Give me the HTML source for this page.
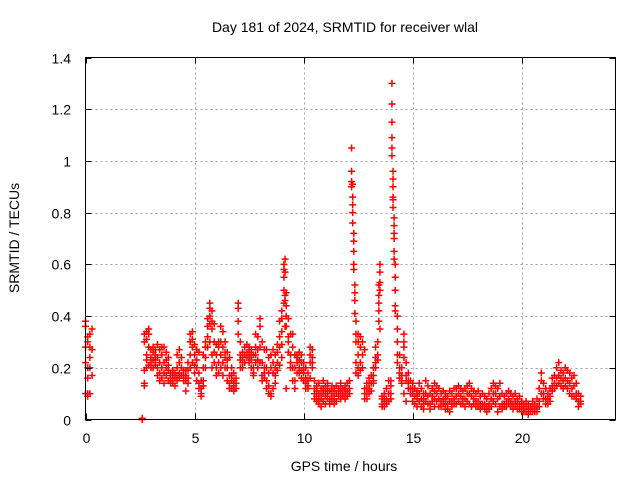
<!DOCTYPE html>
<html><head><meta charset="utf-8"><style>
html,body{margin:0;padding:0;background:#fff}
svg{display:block;font-family:"Liberation Sans",sans-serif}
</style></head><body>
<svg id="chart" width="640" height="480" viewBox="0 0 640 480">
<text x="345" y="32" font-size="14" text-anchor="middle">Day 181 of 2024, SRMTID for receiver wlal</text>
<g id="grid"></g>
<g id="marks"></g>
<rect x="85.5" y="57.5" width="530" height="362" fill="none" stroke="#000" stroke-width="1"/>
<g id="ticks"></g>
<text transform="translate(19,238) rotate(-90)" font-size="14" text-anchor="middle">SRMTID / TECUs</text>
<text x="344" y="471" font-size="14" text-anchor="middle">GPS time / hours</text>
</svg>
<script>
const xTicks=[0,5,10,15,20];
const yTicks=[0,0.2,0.4,0.6,0.8,1,1.2,1.4];
const yTickLabels=["0","0.2","0.4","0.6","0.8","1","1.2","1.4"];
const samples=[
[0.0,[0.38,0.36,0.1,0.28,0.22]],[0.1,[0.09,0.3,0.16,0.32,0.2,0.1]],[0.2,[0.33,0.24,0.28,0.1,0.2]],[0.3,[0.35,0.17,0.27]],
[2.6,[0,0.005]],[2.7,[0.14,0.13,0.19,0.33,0.3]],[2.8,[0.34,0.23,0.25,0.2,0.31]],[2.9,[0.35,0.28,0.21,0.33]],
[3.0,[0.27,0.22,0.2,0.24]],[3.1,[0.28,0.23,0.2,0.26]],[3.2,[0.27,0.25,0.21,0.23]],[3.3,[0.29,0.2,0.24,0.17]],[3.4,[0.27,0.15,0.18,0.22]],
[3.5,[0.28,0.16,0.2,0.25]],[3.6,[0.28,0.14,0.22,0.18]],[3.7,[0.26,0.17,0.2,0.23]],[3.8,[0.24,0.15,0.19,0.21]],[3.9,[0.18,0.14,0.16]],
[4.0,[0.17,0.14,0.19,0.15]],[4.1,[0.16,0.13,0.18]],[4.2,[0.2,0.15,0.25,0.17]],[4.3,[0.27,0.18,0.22,0.16]],[4.4,[0.24,0.17,0.2]],
[4.5,[0.19,0.15,0.17]],[4.6,[0.17,0.11,0.15,0.19]],[4.7,[0.22,0.16,0.19,0.14]],[4.8,[0.33,0.3,0.25,0.2]],[4.9,[0.34,0.31,0.22,0.28]],
[5.0,[0.29,0.18,0.25,0.21]],[5.1,[0.27,0.2,0.23,0.15]],[5.2,[0.26,0.12,0.14,0.18]],[5.3,[0.1,0.09,0.12,0.15]],[5.4,[0.2,0.15,0.13,0.25]],
[5.5,[0.28,0.3,0.24,0.2]],[5.6,[0.39,0.36,0.32,0.28]],[5.7,[0.45,0.43,0.4,0.37,0.3]],[5.8,[0.42,0.38,0.35,0.25,0.2]],[5.9,[0.37,0.3,0.22,0.26]],
[6.0,[0.29,0.2,0.17,0.25]],[6.1,[0.28,0.22,0.18,0.3]],[6.2,[0.36,0.3,0.25,0.2]],[6.3,[0.34,0.28,0.22,0.17]],[6.4,[0.3,0.24,0.2,0.26]],
[6.5,[0.26,0.2,0.15,0.23]],[6.6,[0.24,0.17,0.14,0.12]],[6.7,[0.2,0.15,0.12,0.17]],[6.8,[0.18,0.13,0.15,0.11]],[6.9,[0.16,0.14,0.12]],
[7.0,[0.45,0.43,0.38,0.33]],[7.1,[0.3,0.25,0.23,0.2]],[7.2,[0.26,0.22,0.2,0.24]],[7.3,[0.28,0.25,0.22]],[7.4,[0.29,0.26,0.24]],
[7.5,[0.28,0.24,0.22,0.26]],[7.6,[0.27,0.23,0.2,0.25]],[7.7,[0.25,0.18,0.2,0.17]],[7.8,[0.25,0.22,0.28,0.33]],[7.9,[0.32,0.27,0.2,0.23]],
[8.0,[0.39,0.36,0.28,0.22]],[8.1,[0.3,0.17,0.22,0.15]],[8.2,[0.27,0.16,0.2,0.18]],[8.3,[0.27,0.15,0.12,0.2]],[8.4,[0.24,0.18,0.1,0.13]],
[8.5,[0.25,0.1,0.09,0.2]],[8.6,[0.27,0.12,0.18,0.22]],[8.7,[0.2,0.14,0.17,0.25]],[8.8,[0.29,0.22,0.19,0.26]],[8.9,[0.38,0.32,0.28,0.21]],
[9.0,[0.42,0.39,0.34,0.29,0.24]],[9.1,[0.6,0.58,0.55,0.5,0.45]],[9.15,[0.62,0.57,0.48,0.46,0.36]],[9.2,[0.49,0.44,0.4,0.36,0.12]],
[9.3,[0.39,0.32,0.3,0.26]],[9.4,[0.33,0.25,0.22,0.2]],[9.5,[0.33,0.28,0.2,0.15]],[9.6,[0.25,0.2,0.15,0.12]],[9.7,[0.25,0.22,0.18,0.24]],
[9.8,[0.26,0.2,0.18,0.23]],[9.9,[0.25,0.22,0.19,0.16]],[10.0,[0.22,0.18,0.15,0.2]],[10.1,[0.2,0.16,0.14,0.12]],[10.2,[0.18,0.15,0.13,0.12]],
[10.3,[0.28,0.25,0.22,0.16]],[10.4,[0.27,0.24,0.22,0.2]],[10.5,[0.15,0.12,0.1,0.08]],[10.6,[0.13,0.09,0.07,0.11]],[10.7,[0.14,0.1,0.06,0.08]],
[10.8,[0.12,0.08,0.05,0.1]],[10.9,[0.15,0.1,0.07,0.12]],[11.0,[0.13,0.09,0.06,0.11]],[11.1,[0.14,0.1,0.08,0.12]],[11.2,[0.11,0.08,0.06]],
[11.3,[0.13,0.09,0.11,0.07]],[11.4,[0.12,0.08,0.1,0.06]],[11.5,[0.13,0.1,0.07]],[11.6,[0.12,0.09,0.11]],[11.7,[0.14,0.1,0.08,0.12]],
[11.8,[0.12,0.1,0.09]],[11.9,[0.13,0.1,0.08,0.12]],[12.0,[0.14,0.11,0.09]],[12.1,[0.15,0.12,0.1]],
[12.2,[1.05,0.96,0.92,0.9]],[12.25,[0.91,0.86,0.83,0.8,0.76]],[12.3,[0.72,0.69,0.65,0.6,0.58]],[12.35,[0.52,0.49,0.46,0.41]],
[12.4,[0.38,0.33,0.3,0.22,0.18]],[12.5,[0.33,0.3,0.25,0.2,0.17]],[12.6,[0.32,0.28,0.22,0.19]],[12.7,[0.3,0.25,0.2]],
[12.8,[0.27,0.12,0.1,0.08]],[12.9,[0.14,0.1,0.08,0.12]],[13.0,[0.16,0.12,0.1,0.14]],[13.1,[0.17,0.14,0.11]],[13.2,[0.2,0.17,0.15,0.14]],
[13.3,[0.28,0.24,0.22,0.2]],[13.4,[0.3,0.25,0.23]],[13.45,[0.52,0.48,0.45,0.42,0.38]],[13.5,[0.6,0.57,0.53,0.5,0.35]],
[13.6,[0.09,0.06,0.05,0.08]],[13.7,[0.1,0.07,0.05,0.08]],[13.8,[0.12,0.08,0.06]],[13.9,[0.15,0.1,0.07]],[14.0,[0.13,0.1,0.08,0.15]],
[14.05,[1.3,1.22,1.15,1.09,1.05,1.02]],[14.1,[0.96,0.93,0.9,0.86,0.85,0.82]],[14.15,[0.78,0.75,0.72,0.7,0.65,0.62]],
[14.2,[0.6,0.55,0.5,0.44,0.42]],[14.3,[0.4,0.35,0.3,0.25,0.22]],[14.4,[0.25,0.2,0.18,0.16]],[14.5,[0.2,0.17,0.15,0.14]],
[14.6,[0.33,0.3,0.28,0.24,0.1]],[14.7,[0.22,0.17,0.15,0.07]],[14.8,[0.18,0.15,0.12,0.14]],[14.9,[0.15,0.12,0.1]],
[15.0,[0.14,0.1,0.07,0.12]],[15.1,[0.12,0.09,0.06]],[15.2,[0.11,0.08,0.05,0.1]],[15.3,[0.14,0.1,0.07]],[15.4,[0.12,0.08,0.05]],
[15.5,[0.1,0.06,0.04,0.08]],[15.6,[0.15,0.1,0.07]],[15.7,[0.13,0.09,0.06]],[15.8,[0.1,0.06,0.04]],[15.9,[0.12,0.09,0.07]],
[16.0,[0.14,0.11,0.08,0.05]],[16.1,[0.13,0.1,0.07]],[16.2,[0.12,0.08,0.05]],[16.3,[0.1,0.07,0.05]],[16.4,[0.11,0.08,0.06]],
[16.5,[0.1,0.06,0.04,0.08]],[16.6,[0.09,0.06,0.04]],[16.7,[0.11,0.07,0.03]],[16.8,[0.1,0.07,0.05]],[16.9,[0.12,0.08,0.06]],
[17.0,[0.12,0.09,0.06]],[17.1,[0.13,0.1,0.07]],[17.2,[0.12,0.09,0.06]],[17.3,[0.11,0.08,0.06]],[17.4,[0.12,0.08,0.05]],
[17.5,[0.13,0.1,0.07]],[17.6,[0.14,0.1,0.06]],[17.7,[0.12,0.09,0.05]],[17.8,[0.11,0.08,0.06]],[17.9,[0.1,0.07,0.05]],
[18.0,[0.11,0.07,0.05]],[18.1,[0.09,0.06,0.04]],[18.2,[0.1,0.06,0.05]],[18.3,[0.09,0.06,0.04]],[18.4,[0.08,0.05,0.03]],
[18.5,[0.1,0.06,0.04]],[18.6,[0.12,0.08,0.05]],[18.7,[0.14,0.1,0.07]],[18.8,[0.13,0.1,0.06]],[18.9,[0.12,0.08,0.03]],
[19.0,[0.14,0.09,0.05]],[19.1,[0.1,0.06,0.04]],[19.2,[0.09,0.06,0.05]],[19.3,[0.1,0.07,0.05]],[19.4,[0.11,0.08,0.06]],
[19.5,[0.1,0.07,0.05]],[19.6,[0.09,0.06,0.04]],[19.7,[0.1,0.07,0.05]],[19.8,[0.08,0.06,0.04]],[19.9,[0.09,0.06,0.04]],
[20.0,[0.07,0.05,0.03]],[20.1,[0.06,0.04,0.03]],[20.2,[0.07,0.05,0.03]],[20.3,[0.06,0.04,0.02]],[20.4,[0.05,0.04,0.03]],
[20.5,[0.07,0.05,0.03]],[20.6,[0.06,0.04,0.03]],[20.7,[0.08,0.05,0.03]],[20.8,[0.12,0.07,0.05]],[20.9,[0.18,0.15,0.1]],
[21.0,[0.14,0.1,0.08]],[21.1,[0.12,0.08,0.06]],[21.2,[0.1,0.08,0.06]],[21.3,[0.12,0.09,0.07]],[21.4,[0.16,0.13,0.11]],
[21.5,[0.17,0.14,0.12]],[21.6,[0.2,0.16,0.13]],[21.7,[0.22,0.17,0.14]],[21.8,[0.19,0.16,0.13]],[21.9,[0.18,0.15,0.12]],
[22.0,[0.2,0.16,0.13]],[22.1,[0.19,0.15,0.12]],[22.2,[0.18,0.14,0.1]],[22.3,[0.16,0.12,0.09]],[22.4,[0.17,0.13,0.09]],
[22.5,[0.14,0.1,0.08]],[22.6,[0.1,0.07,0.05]],[22.7,[0.09,0.07,0.06]]
];
const NS="http://www.w3.org/2000/svg";
const X0=85.5,X1=615.5,Y0=419.5,Y1=57.5,XMAX=24.3,YMAX=1.4;
function xs(v){return X0+(X1-X0)*v/XMAX;}
function ys(v){return Y0-(Y0-Y1)*v/YMAX;}
function mk(tag,attrs,parent){const e=document.createElementNS(NS,tag);for(const k in attrs)e.setAttribute(k,attrs[k]);parent.appendChild(e);return e;}
const grid=document.getElementById('grid'),ticks=document.getElementById('ticks'),marks=document.getElementById('marks');
xTicks.forEach((t,i)=>{
  const x=Math.round(xs(t))+0.5;
  if(t>0){const g=mk('line',{x1:x,x2:x,y1:Y1,y2:Y0,stroke:'#a0a0a0','stroke-dasharray':'2,3'},grid);
  
  }
  const a=mk('line',{x1:x,x2:x,y1:Y0,y2:Y0-6,stroke:'#000'},ticks);
  
  
  const b=mk('line',{x1:x,x2:x,y1:Y1,y2:Y1+6,stroke:'#000'},ticks);
  
  
  const l=mk('text',{x:x,y:443,'font-size':14,'text-anchor':'middle'},ticks);
  l.textContent=String(t);
  
  
});
yTicks.forEach((t,i)=>{
  const y=Math.round(ys(t))+0.5;
  if(t>0&&t<YMAX){const g=mk('line',{x1:X0,x2:X1,y1:y,y2:y,stroke:'#a0a0a0','stroke-dasharray':'2,3'},grid);
  
  }
  const a=mk('line',{x1:X0,x2:X0+6,y1:y,y2:y,stroke:'#000'},ticks);
  
  
  const b=mk('line',{x1:X1,x2:X1-6,y1:y,y2:y,stroke:'#000'},ticks);
  
  
  const l=mk('text',{x:71,y:y+5,'font-size':14,'text-anchor':'end'},ticks);
  l.textContent=yTickLabels[i];
  
  
});
samples.forEach(s=>{
  s[1].forEach(v=>{
    const x=xs(s[0]),y=ys(v);
    const p=mk('path',{d:`M${x-3.5},${y}H${x+3.5}M${x},${y-3.5}V${y+3.5}`,stroke:'#ff0000','stroke-width':1.5,fill:'none'},marks);
    
    
  });
});
</script>
</body></html>
